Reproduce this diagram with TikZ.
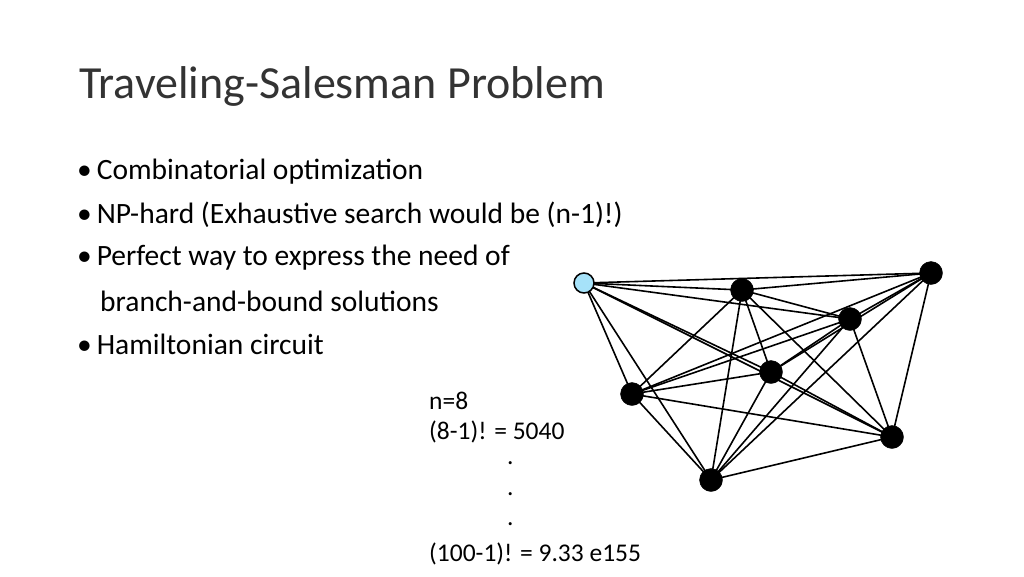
\documentclass[tikz,border=0pt]{standalone}
\usepackage{fontspec}
\setmainfont{Carlito}
\begin{document}
\begin{tikzpicture}[x=1pt,y=-1pt,
  city/.style={circle,fill=black,draw=black,inner sep=0pt,minimum size=23pt},
  home/.style={city,fill=cyan!35,line width=1.5pt,minimum size=20pt},
  txt/.style={anchor=west,inner sep=0pt,font=\fontsize{29.5}{34}\selectfont},
  calc/.style={anchor=west,inner sep=0pt,font=\fontsize{25.5}{30}\selectfont}]
\useasboundingbox (0,0) rectangle (1024,576);

\node[anchor=west,inner sep=0pt,font=\fontsize{46}{52}\selectfont,text=black!80] (title) at (79,86) {Traveling-Salesman Problem};

\node[txt] (b1) at (77,172) {\textbullet\,Combinatorial optimization};
\node[txt] (b2) at (77,215) {\textbullet\,NP-hard (Exhaustive search would be (n-1)!)};
\node[txt] (b3) at (77,258) {\textbullet\,Perfect way to express the need of};
\node[txt] (b4) at (100,301) {branch-and-bound solutions};
\node[txt] (b5) at (77,344) {\textbullet\,Hamiltonian circuit};

\node[calc] (n) at (429,401) {n=8};
\node[calc] (f8) at (429,432) {(8-1)! = 5040};
\foreach \y in {463,494,524}
  \node[calc] at (507,\y) {.};
\node[calc] (f100) at (429,554) {(100-1)! = 9.33 e155};

% cities
\coordinate (pa) at (584,283);
\coordinate (pb) at (742,290);
\coordinate (pc) at (931,273);
\coordinate (pd) at (850,319);
\coordinate (pe) at (771,372);
\coordinate (pf) at (632,394);
\coordinate (pg) at (892,437);
\coordinate (ph) at (711,480);
\foreach \s/\t in {a/b,a/c,a/d,a/e,a/f,a/g,a/h,b/c,b/d,b/e,b/f,b/g,b/h,c/d,c/e,c/f,c/g,c/h,d/e,d/f,d/g,d/h,e/f,e/g,e/h,f/g,f/h,g/h}
  \draw[line width=1.6pt] (p\s) -- (p\t);
\foreach \c in {b,c,d,e,f,g,h}
  \node[city] (\c) at (p\c) {};
\node[home] (a) at (pa) {};
\end{tikzpicture}
\end{document}
